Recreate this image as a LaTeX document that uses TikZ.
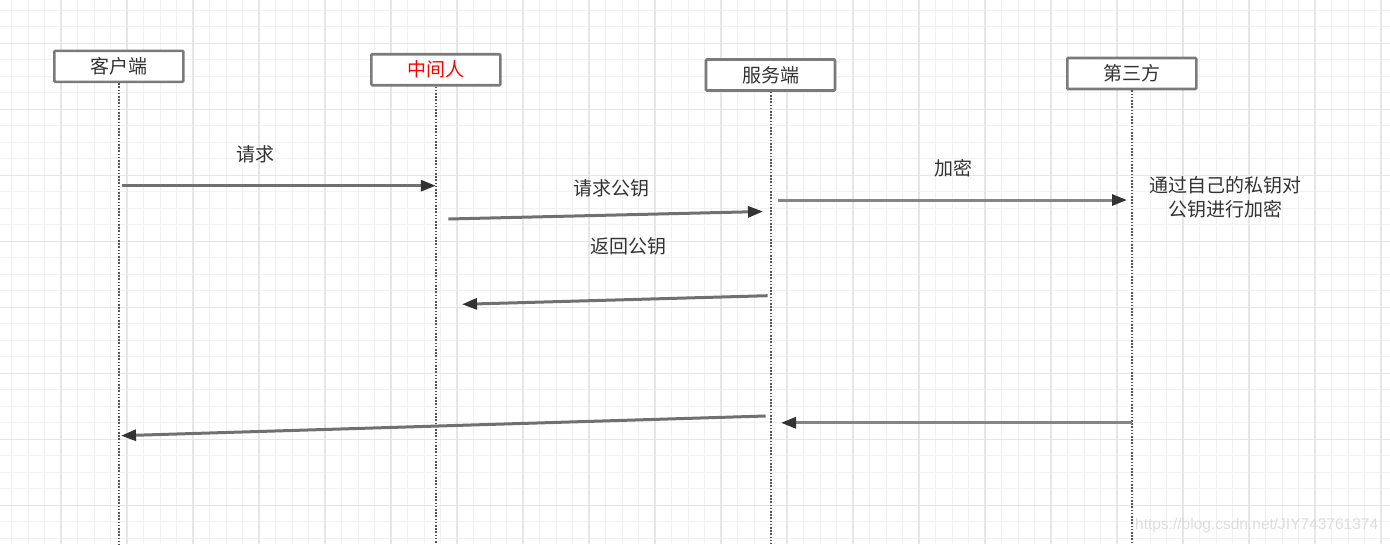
\documentclass[tikz,border=0pt]{standalone}
\usepackage{fontspec}
\setmainfont{Noto Sans CJK SC}
\newfontfamily\wmfont{Liberation Sans}
\usetikzlibrary{arrows.meta}
\definecolor{gridminor}{HTML}{F1F1F1}
\definecolor{gridmajor}{HTML}{E6E6E6}
\definecolor{txt}{HTML}{333333}
\definecolor{boxline}{HTML}{7A7A7A}
\definecolor{lifeline}{HTML}{555555}
\definecolor{msgline}{HTML}{707070}
\definecolor{msghead}{HTML}{333333}
\definecolor{redtxt}{HTML}{FF0000}
\definecolor{wm}{HTML}{DDDDDD}
\begin{document}
\begin{tikzpicture}[x=1pt,y=-1pt,
  actor/.style={draw=boxline,line width=2.6pt,fill=white,rounded corners=1pt,
    minimum width=129pt,minimum height=31pt,inner sep=0pt,text=txt,
    font=\fontsize{19}{22}\selectfont},
  life/.style={draw=lifeline,line width=2pt,dash pattern=on 1.6pt off 1.6pt},
  msg/.style={draw=msgline,line width=3pt,
    -{Triangle[length=15pt,width=11pt,color=msghead]}},
  lbl/.style={text=txt,font=\fontsize{19}{24}\selectfont,inner sep=0pt,align=center}]
\useasboundingbox (0,0) rectangle (1390,544);
\fill[white] (0,0) rectangle (1390,544);
% grid
\foreach \i in {-3,...,81}{
  \draw[gridminor,line width=1pt] ({61+16.5*\i},0) -- ({61+16.5*\i},544);}
\foreach \j in {-3,...,31}{
  \draw[gridminor,line width=1pt] (0,{43.3+16.5*\j}) -- (1390,{43.3+16.5*\j});}
\foreach \i in {-1,...,21}{
  \draw[gridmajor,line width=1.5pt] ({61+66*\i},0) -- ({61+66*\i},544);}
\foreach \j in {-1,...,8}{
  \draw[gridmajor,line width=1.5pt] (0,{43.3+66*\j}) -- (1390,{43.3+66*\j});}
% actors
\node[actor] (client) at (118.8,66.3) {客户端};
\node[actor,text=redtxt] (mitm) at (435.8,69.7) {中间人};
\node[actor] (server) at (770.5,75) {服务端};
\node[actor] (third) at (1131.8,73.5) {第三方};
% lifeline ends
\coordinate (clientEnd) at (client.south |- 0,544);
\coordinate (mitmEnd) at (mitm.south |- 0,544);
\coordinate (serverEnd) at (server.south |- 0,544);
\coordinate (thirdEnd) at (third.south |- 0,544);
\draw[life] (client.south) -- (clientEnd);
\draw[life] (mitm.south) -- (mitmEnd);
\draw[life] (server.south) -- (serverEnd);
\draw[life] (third.south) -- (thirdEnd);
% message end points
\coordinate (m1s) at (121.5,185.7);
\coordinate (m1e) at (435.8,185.7);
\coordinate (m2s) at (448.3,219);
\coordinate (m2e) at (763,211.5);
\coordinate (m3s) at (767.7,295.7);
\coordinate (m3e) at (462,304.3);
\coordinate (m4s) at (1131.8,422.8);
\coordinate (m4e) at (781,422.8);
\coordinate (m5s) at (765.7,416);
\coordinate (m5e) at (121,435.7);
\coordinate (m6s) at (778,200);
\coordinate (m6e) at (1127,200);
% messages
\draw[msg] (m1s) -- (m1e);
\draw[msg] (m2s) -- (m2e);
\draw[msg] (m3s) -- (m3e);
\draw[msg,draw=msgline!85] (m6s) -- (m6e);
\draw[msg,draw=msgline!85] (m4s) -- (m4e);
\draw[msg] (m5s) -- (m5e);
% labels
\node[lbl] (l1) at (255,154) {请求};
\node[lbl] (l2) at (611,188.3) {请求公钥};
\node[lbl] (l3) at (628.3,246.7) {返回公钥};
\node[lbl] (l4) at (953,168) {加密};
\node[lbl] (l5) at (1225,197.2) {通过自己的私钥对\\公钥进行加密};
% watermark
\node[text=wm,font=\wmfont\fontsize{15.5}{17}\selectfont,inner sep=0pt] (wmk) at (1256.7,525.7) {https://blog.csdn.net/JIY743761374};
\end{tikzpicture}
\end{document}
